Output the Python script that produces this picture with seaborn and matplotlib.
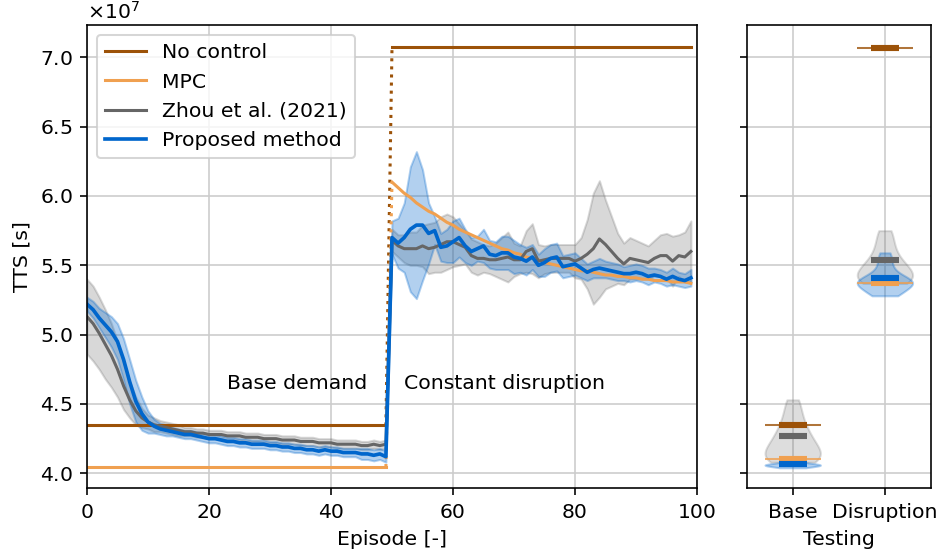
import numpy as np
import pandas as pd
import matplotlib
matplotlib.use("Agg")
import matplotlib.pyplot as plt
import seaborn as sns
from matplotlib.ticker import ScalarFormatter

SCALE = 1e7
DPI = 146.6

# ---------------- data (TTS in units of 1e7 s) ----------------
episodes = list(range(100))
base_eps = list(range(0, 50))
disr_eps = list(range(50, 100))

no_control_base = 4.345
no_control_disr = 7.072
mpc_base = 4.045
mpc_disr = [6.10, 6.06, 6.02, 5.99, 5.95, 5.92, 5.89, 5.87, 5.84, 5.81,
            5.79, 5.76, 5.74, 5.72, 5.70, 5.68, 5.66, 5.64, 5.62, 5.61,
            5.59, 5.58, 5.56, 5.55, 5.54, 5.52, 5.51, 5.50, 5.49, 5.48,
            5.47, 5.46, 5.46, 5.45, 5.44, 5.43, 5.43, 5.42, 5.42, 5.41,
            5.41, 5.40, 5.40, 5.39, 5.39, 5.39, 5.38, 5.38, 5.38, 5.37]

zhou_mean = [5.13, 5.08, 5.01, 4.93, 4.85, 4.75, 4.63, 4.53, 4.45, 4.40,
             4.37, 4.35, 4.34, 4.33, 4.32, 4.31, 4.30, 4.30, 4.29, 4.29,
             4.28, 4.28, 4.28, 4.27, 4.27, 4.27, 4.26, 4.26, 4.26, 4.25,
             4.25, 4.25, 4.24, 4.24, 4.24, 4.23, 4.23, 4.23, 4.22, 4.22,
             4.22, 4.21, 4.21, 4.21, 4.21, 4.20, 4.20, 4.21, 4.20, 4.21,
             5.68, 5.64, 5.62, 5.62, 5.62, 5.64, 5.62, 5.63, 5.65, 5.67,
             5.67, 5.65, 5.63, 5.57, 5.55, 5.55, 5.54, 5.54, 5.55, 5.56,
             5.54, 5.54, 5.60, 5.62, 5.53, 5.54, 5.55, 5.55, 5.55, 5.55,
             5.53, 5.55, 5.58, 5.62, 5.69, 5.65, 5.60, 5.55, 5.51, 5.55,
             5.54, 5.53, 5.52, 5.55, 5.57, 5.57, 5.53, 5.57, 5.56, 5.60]
zhou_hw = [0.27, 0.27, 0.26, 0.25, 0.23, 0.20, 0.17, 0.13, 0.10, 0.07,
           0.05, 0.05, 0.04, 0.04, 0.04, 0.04, 0.03, 0.03, 0.03, 0.03,
           0.03, 0.03, 0.03, 0.03, 0.03, 0.03, 0.03, 0.03, 0.03, 0.03,
           0.03, 0.03, 0.03, 0.03, 0.03, 0.03, 0.03, 0.03, 0.03, 0.03,
           0.03, 0.03, 0.03, 0.03, 0.03, 0.03, 0.03, 0.03, 0.03, 0.03,
           0.08, 0.08, 0.10, 0.12, 0.12, 0.15, 0.18, 0.18, 0.20, 0.20,
           0.18, 0.15, 0.12, 0.12, 0.12, 0.10, 0.10, 0.12, 0.15, 0.18,
           0.12, 0.10, 0.15, 0.18, 0.12, 0.10, 0.10, 0.10, 0.10, 0.10,
           0.12, 0.15, 0.25, 0.40, 0.42, 0.32, 0.25, 0.18, 0.15, 0.15,
           0.14, 0.13, 0.12, 0.13, 0.15, 0.16, 0.18, 0.15, 0.18, 0.22]

prop_mean = [5.22, 5.18, 5.12, 5.07, 5.02, 4.95, 4.82, 4.66, 4.52, 4.43,
             4.37, 4.34, 4.32, 4.31, 4.30, 4.29, 4.28, 4.28, 4.27, 4.26,
             4.25, 4.25, 4.24, 4.23, 4.23, 4.22, 4.22, 4.21, 4.21, 4.21,
             4.20, 4.20, 4.19, 4.19, 4.18, 4.18, 4.17, 4.17, 4.16, 4.17,
             4.16, 4.16, 4.15, 4.15, 4.15, 4.14, 4.14, 4.13, 4.14, 4.12,
             5.70, 5.66, 5.70, 5.76, 5.79, 5.79, 5.73, 5.75, 5.63, 5.64,
             5.67, 5.70, 5.64, 5.60, 5.62, 5.64, 5.58, 5.57, 5.59, 5.59,
             5.56, 5.55, 5.53, 5.56, 5.50, 5.52, 5.55, 5.56, 5.49, 5.50,
             5.51, 5.48, 5.45, 5.47, 5.48, 5.47, 5.46, 5.45, 5.44, 5.44,
             5.45, 5.44, 5.42, 5.43, 5.42, 5.40, 5.42, 5.40, 5.39, 5.41]
prop_hw = [0.05, 0.06, 0.07, 0.09, 0.11, 0.13, 0.15, 0.16, 0.15, 0.12,
           0.08, 0.05, 0.04, 0.04, 0.03, 0.03, 0.03, 0.03, 0.03, 0.03,
           0.03, 0.03, 0.03, 0.03, 0.03, 0.03, 0.03, 0.03, 0.03, 0.03,
           0.03, 0.03, 0.03, 0.03, 0.03, 0.03, 0.03, 0.03, 0.03, 0.03,
           0.03, 0.03, 0.03, 0.03, 0.03, 0.04, 0.04, 0.04, 0.04, 0.04,
           0.12, 0.18, 0.25, 0.45, 0.53, 0.40, 0.22, 0.10, 0.10, 0.12,
           0.15, 0.14, 0.12, 0.10, 0.09, 0.12, 0.10, 0.10, 0.12, 0.12,
           0.12, 0.10, 0.10, 0.09, 0.08, 0.10, 0.10, 0.10, 0.08, 0.08,
           0.08, 0.07, 0.06, 0.06, 0.07, 0.06, 0.06, 0.06, 0.05, 0.06,
           0.06, 0.06, 0.06, 0.05, 0.05, 0.05, 0.06, 0.05, 0.05, 0.06]

# testing results: per-run TTS samples (violins) and mean values (bars)
test_cats = ["Base", "Disruption"]
test_no_control = [[4.345], [7.07]]
test_mpc = [[4.105], [5.375]]
test_zhou = [[4.08, 4.085, 4.09, 4.10, 4.12, 4.14, 4.16, 4.18, 4.20, 4.22, 4.25,
              4.28, 4.31, 4.35, 4.40, 4.46, 4.53],
             [5.37, 5.375, 5.38, 5.40, 5.42, 5.44, 5.46, 5.48, 5.50, 5.53, 5.57,
              5.62, 5.68, 5.75]]
test_prop = [[4.04, 4.05, 4.055, 4.06, 4.065, 4.07, 4.085],
             [5.28, 5.29, 5.31, 5.33, 5.35, 5.36, 5.37, 5.38, 5.385, 5.39, 5.40,
              5.42, 5.45, 5.49, 5.54, 5.59]]
bar_no_control = [4.345, 7.07]
bar_mpc = [4.105, 5.375]
bar_zhou = [4.27, 5.54]
bar_prop = [4.065, 5.41]

methods = ["No control", "MPC", "Zhou et al. (2021)", "Proposed method"]
colors = {"No control": "#9c5208", "MPC": "#f0a050",
          "Zhou et al. (2021)": "#666666", "Proposed method": "#0066cc"}

# ---------------- figure ----------------
plt.rcParams.update({"font.family": ["DejaVu Sans"], "font.size": 10})
fig = plt.figure(figsize=(938 / DPI, 556 / DPI), dpi=DPI)
W, H = 938, 556
bottom = 1 - 488.3 / H
height = (488.3 - 25) / H
ax1 = fig.add_axes([87 / W, bottom, (697 - 87) / W, height])
ax2 = fig.add_axes([746.6 / W, bottom, (931 - 746.6) / W, height], sharey=ax1)

LW = 1.5

# No control
sns.lineplot(x=base_eps, y=[no_control_base * SCALE] * 50, color=colors["No control"],
             lw=LW, errorbar=None, label="No control", ax=ax1)
sns.lineplot(x=[49, 50], y=[no_control_base * SCALE, no_control_disr * SCALE],
             color=colors["No control"], lw=LW, linestyle=":", errorbar=None, ax=ax1)
sns.lineplot(x=disr_eps, y=[no_control_disr * SCALE] * 50, color=colors["No control"],
             lw=LW, errorbar=None, ax=ax1)

# MPC
sns.lineplot(x=base_eps, y=[mpc_base * SCALE] * 50, color=colors["MPC"],
             lw=LW, errorbar=None, label="MPC", ax=ax1)
sns.lineplot(x=[49, 50], y=[mpc_base * SCALE, mpc_disr[0] * SCALE],
             color=colors["MPC"], lw=LW, linestyle=":", errorbar=None, ax=ax1)
sns.lineplot(x=disr_eps, y=[v * SCALE for v in mpc_disr], color=colors["MPC"],
             lw=LW, errorbar=None, ax=ax1)


def band_frame(mean, hw):
    rows = []
    for e, m, h in zip(episodes, mean, hw):
        for v in (m - h, m, m + h):
            rows.append({"Episode": e, "TTS": v * SCALE})
    return pd.DataFrame(rows)


for name, mean, hw, a, lw in [("Zhou et al. (2021)", zhou_mean, zhou_hw, 0.25, LW),
                              ("Proposed method", prop_mean, prop_hw, 0.3, LW + 0.3)]:
    sns.lineplot(data=band_frame(mean, hw), x="Episode", y="TTS", estimator="median",
                 errorbar=("pi", 100), color=colors[name], lw=lw,
                 label=name, ax=ax1,
                 err_kws={"alpha": a, "edgecolor": colors[name], "linewidth": 1.0})

ax1.text(46, 4.65 * SCALE, "Base demand", ha="right", va="center", fontsize=10)
ax1.text(52, 4.65 * SCALE, "Constant disruption", ha="left", va="center", fontsize=10)

ax1.set_xlim(0, 100)
ax1.set_xticks([0, 20, 40, 60, 80, 100])
ax1.set_yticks([v * SCALE for v in [4.0, 4.5, 5.0, 5.5, 6.0, 6.5, 7.0]])
fmt = ScalarFormatter(useMathText=True)
fmt.set_scientific(True)
fmt.set_powerlimits((0, 0))
ax1.yaxis.set_major_formatter(fmt)
ax1.set_xlabel("Episode [-]")
ax1.set_ylabel("TTS [s]")
ax1.grid(True, color="#cccccc", lw=0.8)
ax1.set_axisbelow(True)
ax1.legend(loc="upper left", fontsize=10, framealpha=0.8)

# ---------------- testing panel ----------------
rows = []
for name, vals in zip(methods, [test_no_control, test_mpc, test_zhou, test_prop]):
    for cat, vs in zip(test_cats, vals):
        for v in vs:
            rows.append({"method": name, "scenario": cat, "TTS": v * SCALE})
test_df = pd.DataFrame(rows)

bar_rows = []
for name, vals in zip(methods, [bar_no_control, bar_mpc, bar_zhou, bar_prop]):
    for cat, v in zip(test_cats, vals):
        bar_rows.append({"method": name, "scenario": cat, "TTS": v * SCALE})
bar_df = pd.DataFrame(bar_rows)

for name, a in [("Zhou et al. (2021)", 0.22), ("Proposed method", 0.3)]:
    sns.violinplot(data=test_df[test_df.method == name], x="scenario", y="TTS",
                   order=test_cats, color=colors[name], linecolor=colors[name],
                   saturation=1, inner=None, cut=0, density_norm="width", bw_adjust=0.85,
                   width=0.6, linewidth=1.0, alpha=a, ax=ax2)

const_df = test_df[test_df.method.isin(["No control", "MPC"])]
sns.pointplot(data=const_df, x="scenario", y="TTS", hue="method", order=test_cats,
              hue_order=["No control", "MPC"], palette=colors, errorbar=None,
              dodge=False, markers="_", linestyles="none", markersize=27.5,
              markeredgewidth=1.0, alpha=0.8, legend=False, ax=ax2)
sns.pointplot(data=bar_df, x="scenario", y="TTS", hue="method", order=test_cats,
              hue_order=methods, palette=colors, errorbar=None,
              dodge=False, markers="_", linestyles="none", markersize=13.8,
              markeredgewidth=3.0, legend=False, ax=ax2)

ax2.set_xlim(-0.5, 1.5)
ax2.set_xlabel("Testing")
ax2.set_ylabel("")
ax2.tick_params(axis="y", labelleft=False)
ax2.yaxis.get_offset_text().set_visible(False)
ax2.grid(True, color="#cccccc", lw=0.8)
ax2.set_axisbelow(True)
ax1.set_ylim(3.892 * SCALE, 7.233 * SCALE)

fig.savefig("out.png", dpi=DPI)
